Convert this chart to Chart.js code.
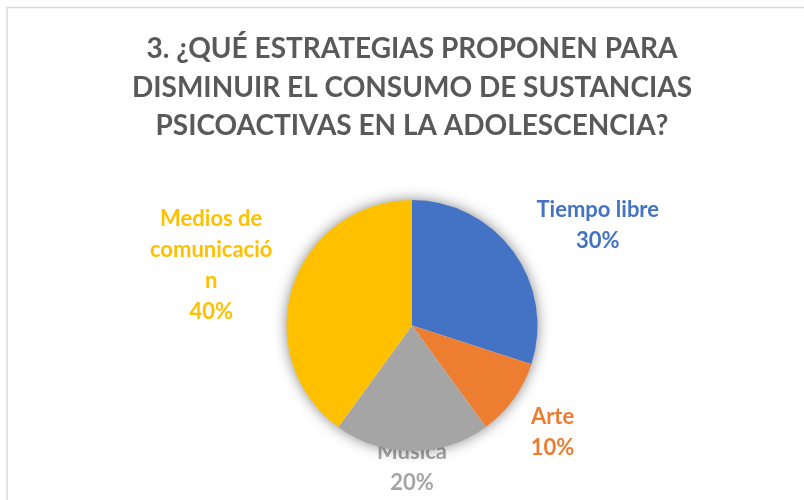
<!DOCTYPE html>
<html>
<head>
<meta charset="utf-8">
<script src="https://cdn.jsdelivr.net/npm/chart.js@4.4.1/dist/chart.umd.min.js"></script>
<style>
  html, body { margin: 0; padding: 0; background: #fff; }
  #wrap { width: 804px; height: 500px; position: relative; }
</style>
</head>
<body>
<div id="wrap"><canvas id="myChart" width="804" height="500"></canvas></div>
<script>
const titleLines = ['3. ¿QUÉ ESTRATEGIAS PROPONEN PARA', 'DISMINUIR EL CONSUMO DE SUSTANCIAS', 'PSICOACTIVAS EN LA ADOLESCENCIA?'];
const categories = ['Tiempo libre', 'Arte', 'Música', 'Medios de comunicación'];
const percentages = [30, 10, 20, 40];
// how the data labels wrap in the original
const labelLines = [['Tiempo libre'], ['Arte'], ['Música'], ['Medios de', 'comunicació', 'n']];

const colors = ['#4472c4', '#ed7d31', '#a5a5a5', '#ffc000'];
const FONT = 'Lato, Calibri, "Open Sans", sans-serif';

// label block centre, in pie-radius units from the pie centre
const labelOffsets = [[1.48, -0.80], [1.12, 0.85], [0, 1.13], [-1.60, -0.48]];

const decorPlugin = {
    id: 'decor',
    beforeDraw(chart) {
        const ctx = chart.ctx;
        ctx.save();
        // frame of the chart object (runs past the window on right/bottom)
        ctx.strokeStyle = '#d9d9d9';
        ctx.lineWidth = 1.5;
        ctx.beginPath();
        ctx.moveTo(7, 500);
        ctx.lineTo(7, 7.5);
        ctx.lineTo(804, 7.5);
        ctx.stroke();

        // title
        ctx.fillStyle = '#595959';
        ctx.font = 'bold 28px ' + FONT;
        ctx.textAlign = 'center';
        ctx.textBaseline = 'middle';
        titleLines.forEach((line, i) => ctx.fillText(line, 412, 49 + i * 38.5));
        ctx.restore();
    },
    beforeDatasetsDraw(chart) {
        const ctx = chart.ctx;
        const arcs = chart.getDatasetMeta(0).data;
        const cx = arcs[0].x, cy = arcs[0].y, r = arcs[0].outerRadius;

        // data labels go under the pie (Música is partly hidden by it)
        ctx.save();
        ctx.font = 'bold 22px ' + FONT;
        ctx.textAlign = 'center';
        ctx.textBaseline = 'middle';
        const lh = 31;
        percentages.forEach((v, i) => {
            const lines = labelLines[i].concat([v + '%']);
            const x = cx + labelOffsets[i][0] * r;
            const y0 = cy + labelOffsets[i][1] * r - (lines.length - 1) * lh / 2;
            ctx.fillStyle = colors[i];
            lines.forEach((t, j) => ctx.fillText(t, x, y0 + j * lh));
        });
        ctx.restore();

        // soft shadow behind the pie
        ctx.save();
        ctx.shadowColor = 'rgba(0,0,0,0.5)';
        ctx.shadowBlur = 14;
        ctx.fillStyle = '#ffffff';
        ctx.beginPath();
        ctx.arc(cx, cy, r - 0.5, 0, Math.PI * 2);
        ctx.fill();
        ctx.restore();
    }
};

new Chart(document.getElementById('myChart').getContext('2d'), {
    type: 'pie',
    data: {
        labels: categories,
        datasets: [{
            data: percentages,
            backgroundColor: colors,
            borderWidth: 0
        }]
    },
    options: {
        responsive: false,
        animation: false,
        layout: { padding: { top: 200, bottom: 49, left: 20, right: 0 } },
        plugins: {
            legend: { display: false },
            title: { display: false },
            tooltip: { enabled: false }
        }
    },
    plugins: [decorPlugin]
});
</script>
</body>
</html>
